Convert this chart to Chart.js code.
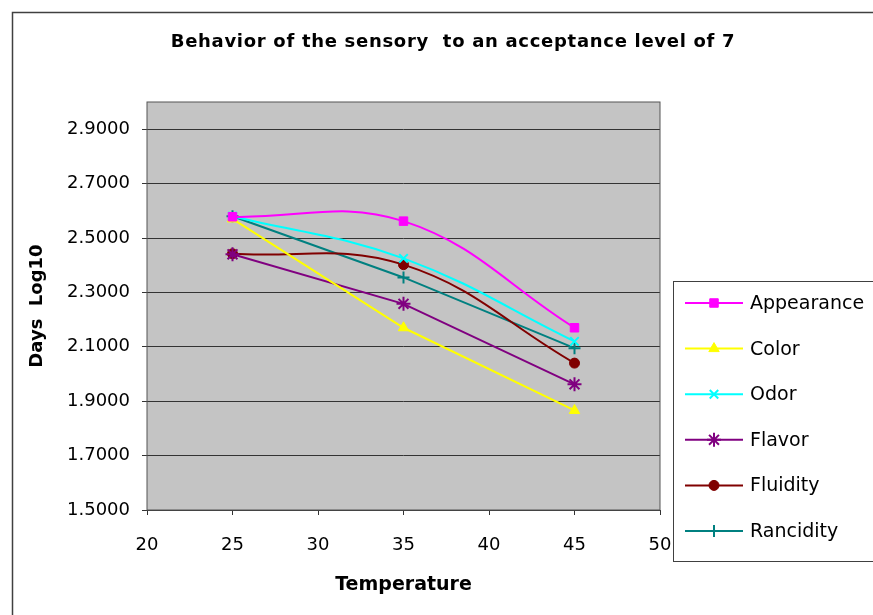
<!DOCTYPE html>
<html>
<head>
<meta charset="utf-8">
<script src="https://cdn.jsdelivr.net/npm/chart.js@4.4.1/dist/chart.umd.min.js"></script>
<style>
  html, body { margin: 0; padding: 0; background: #fff; }
  #wrap { width: 873px; height: 615px; position: relative; }
</style>
</head>
<body>
<div id="wrap"><canvas id="sensoryChart" width="873" height="615"></canvas></div>
<script>
// temperatures (x) and log10 days for each sensory attribute
const temperatures = [25, 35, 45];
const appearance = [2.578, 2.562, 2.170];
const color = [2.570, 2.170, 1.866];
const odor = [2.580, 2.425, 2.120];
const flavor = [2.440, 2.258, 1.962];
const fluidity = [2.442, 2.402, 2.040];
const rancidity = [2.580, 2.355, 2.095];
const yTicks = [1.5, 1.7, 1.9, 2.1, 2.3, 2.5, 2.7, 2.9];
const xTicks = [20, 25, 30, 35, 40, 45, 50];
const chartTitle = 'Behavior of the sensory  to an acceptance level of 7';

const FONT = '"DejaVu Sans", Arial, sans-serif';

function toPoints(values) {
    return temperatures.map((t, i) => ({ x: t, y: values[i] }));
}

function series(label, values, colour, style, radius, smooth) {
    return {
        label: label,
        data: toPoints(values),
        borderColor: colour,
        backgroundColor: colour,
        borderWidth: 2,
        pointStyle: style,
        pointRadius: radius,
        pointBorderWidth: style === 'star' || style === 'cross' || style === 'crossRot' ? 2 : 1,
        tension: smooth ? 0.4 : 0
    };
}

// chart frame, plot fill, title and legend
const decorations = {
    id: 'decorations',
    beforeDraw(chart) {
        const ctx = chart.ctx;
        const a = chart.chartArea;
        ctx.save();
        ctx.strokeStyle = '#404040';
        ctx.lineWidth = 1.5;
        ctx.strokeRect(12.5, 12.5, 900, 640);
        ctx.fillStyle = '#c4c4c4';
        ctx.fillRect(a.left, a.top, a.right - a.left, a.bottom - a.top);
        ctx.fillStyle = '#000';
        ctx.font = 'bold 18px ' + FONT;
        ctx.letterSpacing = '0.7px';
        ctx.textAlign = 'center';
        ctx.textBaseline = 'middle';
        ctx.fillText(chartTitle, 453, 42);
        ctx.restore();
    },
    afterDraw(chart) {
        const ctx = chart.ctx;
        const a = chart.chartArea;
        ctx.save();
        ctx.strokeStyle = '#555';
        ctx.lineWidth = 1;
        ctx.strokeRect(a.left, a.top, a.right - a.left, a.bottom - a.top);
        // legend box
        ctx.fillStyle = '#fff';
        ctx.fillRect(673, 281, 210, 280);
        ctx.strokeStyle = '#404040';
        ctx.strokeRect(673.5, 281.5, 210, 280);
        ctx.font = '19px ' + FONT;
        ctx.textBaseline = 'middle';
        ctx.textAlign = 'left';
        chart.data.datasets.forEach((ds, i) => {
            const y = 303 + i * 45.6;
            ctx.strokeStyle = ds.borderColor;
            ctx.lineWidth = 2;
            ctx.beginPath();
            ctx.moveTo(685, y);
            ctx.lineTo(743, y);
            ctx.stroke();
            ctx.fillStyle = ds.backgroundColor;
            ctx.lineWidth = ds.pointBorderWidth;
            Chart.helpers.drawPoint(ctx, {
                pointStyle: ds.pointStyle,
                radius: ds.pointRadius,
                rotation: 0,
                borderWidth: ds.pointBorderWidth
            }, 714, y);
            ctx.fillStyle = '#000';
            ctx.fillText(ds.label, 750, y + 1);
        });
        ctx.restore();
    }
};

new Chart(document.getElementById('sensoryChart'), {
    type: 'line',
    data: {
        datasets: [
            series('Appearance', appearance, '#ff00ff', 'rect', 6, true),
            series('Color', color, '#ffff00', 'triangle', 6, false),
            series('Odor', odor, '#00ffff', 'crossRot', 6, true),
            series('Flavor', flavor, '#800080', 'star', 7, false),
            series('Fluidity', fluidity, '#800000', 'circle', 5, true),
            series('Rancidity', rancidity, '#008080', 'cross', 6, false)
        ]
    },
    options: {
        responsive: false,
        animation: false,
        layout: { padding: { left: 22, right: 213, top: 102, bottom: 0 } },
        plugins: {
            legend: { display: false },
            title: { display: false },
            tooltip: { enabled: false }
        },
        scales: {
            x: {
                type: 'linear',
                min: 20,
                max: 50,
                afterBuildTicks: s => { s.ticks = xTicks.map(v => ({ value: v })); },
                afterFit: s => { s.height = 105; },
                grid: {
                    drawOnChartArea: false,
                    drawTicks: true,
                    tickLength: 5,
                    color: '#333'
                },
                border: { display: false },
                ticks: {
                    color: '#000',
                    padding: 20,
                    maxRotation: 0,
                    font: { family: FONT, size: 18 }
                },
                title: {
                    display: true,
                    text: 'Temperature',
                    color: '#000',
                    padding: { top: 19, bottom: 19 },
                    font: { family: FONT, size: 19, weight: 'bold' }
                }
            },
            y: {
                min: 1.5,
                max: 3.0,
                afterBuildTicks: s => { s.ticks = yTicks.map(v => ({ value: v })); },
                afterFit: s => { s.width = 125; },
                grid: {
                    color: '#333',
                    lineWidth: 1,
                    tickLength: 5
                },
                border: { display: false },
                ticks: {
                    color: '#000',
                    padding: 12,
                    font: { family: FONT, size: 18 },
                    callback: v => Number(v).toFixed(4)
                },
                title: {
                    display: true,
                    text: 'Days  Log10',
                    color: '#000',
                    padding: { top: 5, bottom: 5 },
                    font: { family: FONT, size: 18, weight: 'bold' }
                }
            }
        }
    },
    plugins: [decorations]
});
</script>
</body>
</html>
